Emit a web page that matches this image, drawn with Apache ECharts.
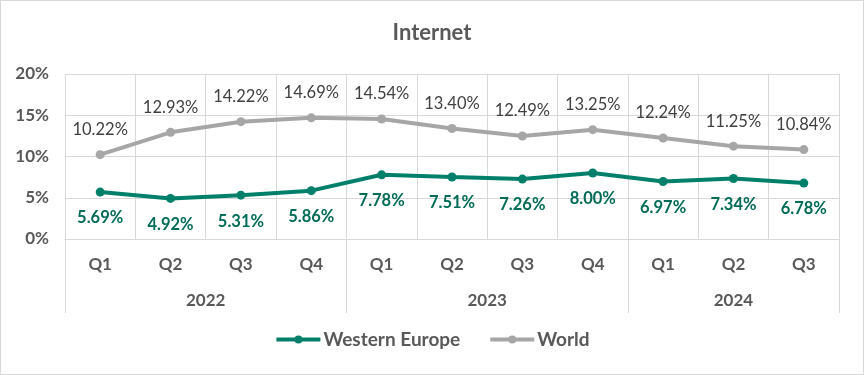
<!DOCTYPE html>
<html>
<head>
<meta charset="utf-8">
<script src="https://cdn.jsdelivr.net/npm/echarts@6/dist/echarts.min.js"></script>
<style>
    html,body{margin:0;padding:0;background:#fff;}
    #internet{
        width:864px;
        height:375px;
        box-sizing:border-box;
        border:1px solid #d9d9d9;
    }
</style>
</head>
<body>
<div id="internet"></div>
<script>
    var quarters=['Q1','Q2','Q3','Q4','Q1','Q2','Q3','Q4','Q1','Q2','Q3'];
    var years=['2022','2023','2024'];
    var yearSpans=[4,4,3];   // quarters per year
    var westernEurope=[5.69,4.92,5.31,5.86,7.78,7.51,7.26,8.00,6.97,7.34,6.78];
    var world=[10.22,12.93,14.22,14.69,14.54,13.40,12.49,13.25,12.24,11.25,10.84];
    var yTicks=[0,5,10,15,20];

    // year axis: half-quarter slots, boundaryGap false, so year centers and boundaries fall on slots
    var yearSlots=[];
    var yearBounds=[0];
    var pos=0;
    for(var i=0;i<=quarters.length*2;i++) yearSlots.push('');
    for(var j=0;j<years.length;j++){
        yearSlots[pos+yearSpans[j]]=years[j];
        pos+=yearSpans[j]*2;
        yearBounds.push(pos);
    }

    var FONT='Lato';
    var GRID='#d9d9d9';
    var TXT='#595959';

    var chart=echarts.init(document.getElementById('internet'));
    var option={
        textStyle:{fontFamily:FONT},
        title:{
            left:'center',
            top:16,
            text:'Internet',
            textStyle:{fontFamily:FONT,fontSize:22,fontWeight:'bold',color:TXT}
        },
        legend:{
            bottom:20,
            left:'center',
            itemWidth:44,
            itemHeight:10,
            itemGap:28,
            lineStyle:{width:4},
            textStyle:{fontFamily:FONT,fontSize:19,fontWeight:'bold',color:TXT,padding:[0,0,0,-2]},
            data:['Western Europe','World']
        },
        grid:{left:64,right:24,top:73,bottom:135,containLabel:false},
        xAxis:[
            {
                type:'category',
                data:quarters,
                boundaryGap:true,
                axisLine:{show:true,lineStyle:{color:GRID,width:1}},
                axisTick:{show:false},
                splitLine:{show:true,lineStyle:{color:GRID,width:1}},
                axisLabel:{margin:17,fontFamily:FONT,fontSize:17,fontWeight:'bold',color:TXT}
            },
            {
                type:'category',
                data:yearSlots,
                boundaryGap:false,
                position:'bottom',
                axisLine:{show:false},
                axisTick:{
                    show:true,
                    length:74,
                    interval:function(idx){return yearBounds.indexOf(idx)>=0;},
                    lineStyle:{color:GRID,width:1}
                },
                splitLine:{show:false},
                axisLabel:{interval:0,margin:53,fontFamily:FONT,fontSize:17,fontWeight:'bold',color:TXT}
            }
        ],
        yAxis:{
            type:'value',
            min:yTicks[0],
            max:yTicks[yTicks.length-1],
            interval:5,
            axisLine:{show:false},
            axisTick:{show:false},
            splitLine:{show:true,lineStyle:{color:GRID,width:1}},
            axisLabel:{margin:16,fontFamily:FONT,fontSize:17,fontWeight:'bold',color:TXT,formatter:'{value}%'}
        },
        series:[
            {
                name:'Western Europe',
                type:'line',
                data:westernEurope,
                color:'#00806a',
                symbol:'circle',
                symbolSize:9,
                lineStyle:{width:4,color:'#00806a'},
                itemStyle:{color:'#00806a'},
                label:{
                    show:true,
                    position:'bottom',
                    distance:13,
                    fontFamily:FONT,
                    fontSize:16.5,
                    fontWeight:'bold',
                    color:'#006b56',
                    formatter:function(p){return p.value.toFixed(2)+'%';}
                },
                z:3
            },
            {
                name:'World',
                type:'line',
                data:world,
                color:'#a6a6a6',
                symbol:'circle',
                symbolSize:9,
                lineStyle:{width:4,color:'#a6a6a6'},
                itemStyle:{color:'#a6a6a6'},
                label:{
                    show:true,
                    position:'top',
                    distance:12,
                    fontFamily:FONT,
                    fontSize:16.5,
                    color:'#404040',
                    formatter:function(p){return p.value.toFixed(2)+'%';}
                },
                z:3
            }
        ]
    };
    chart.setOption(option);
    window.addEventListener("resize",chart.resize);
</script>
</body>
</html>
